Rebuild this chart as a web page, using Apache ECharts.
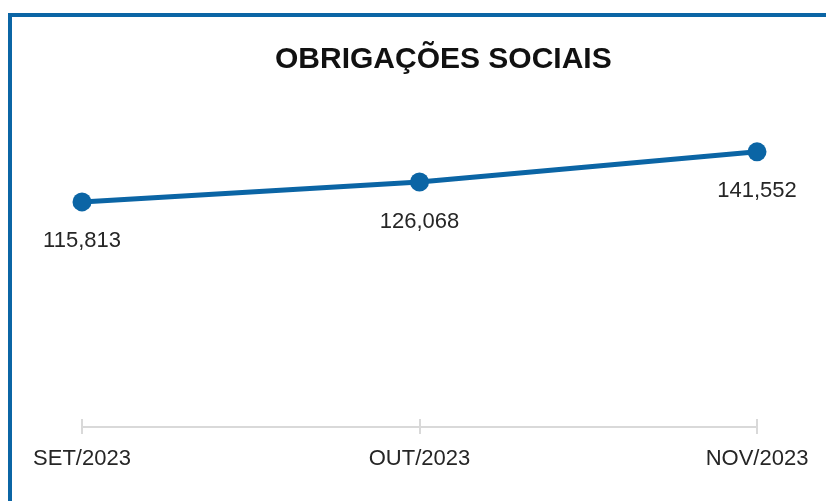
<!DOCTYPE html>
<html>
<head>
<meta charset="utf-8">
<script src="https://cdn.jsdelivr.net/npm/echarts@6/dist/echarts.min.js"></script>
<style>
  html, body { margin: 0; padding: 0; background: #fff; }
  #frame {
    position: absolute; left: 8px; top: 13px; right: 0; bottom: 0;
    border-left: 4px solid #0b65a5; border-top: 4px solid #0b65a5;
  }
  #chart { position: absolute; left: 0; top: 0; width: 826px; height: 501px; }
</style>
</head>
<body>
<div id="frame"></div>
<div id="chart"></div>
<script>
// meses e valores
var months = ['SET/2023', 'OUT/2023', 'NOV/2023'];
var values = [115813, 126068, 141552];

var chart = echarts.init(document.getElementById('chart'));
chart.setOption({
  animation: false,
  title: {
    left: 270,
    top: 40,
    text: 'OBRIGAÇÕES SOCIAIS',
    textStyle: { fontFamily: 'Liberation Sans', fontWeight: 'bold', fontSize: 30, color: '#111' }
  },
  grid: { left: 82, right: 69, top: 116, bottom: 74 },
  xAxis: [{
    type: 'category',
    data: months,
    boundaryGap: false,
    axisLine: { lineStyle: { color: '#d9d9d9', width: 2 } },
    axisTick: { show: true, length: 7, lineStyle: { color: '#d9d9d9', width: 2 } },
    axisLabel: { color: '#262626', fontSize: 22, fontFamily: 'Liberation Sans', margin: 21 }
  }, {
    // ticks cruzando a linha do eixo (parte de cima)
    type: 'category',
    data: months,
    position: 'bottom',
    boundaryGap: false,
    axisLine: { show: false },
    axisTick: { show: true, inside: true, length: 8, lineStyle: { color: '#d9d9d9', width: 2 } },
    axisLabel: { show: false }
  }],
  yAxis: {
    type: 'value', min: 0, max: 160000, show: false,
    splitLine: { show: false }
  },
  series: [{
    type: 'line',
    data: values,
    symbol: 'circle',
    symbolSize: 19,
    lineStyle: { color: '#0b65a5', width: 5 },
    itemStyle: { color: '#0b65a5' },
    label: {
      show: true, position: 'bottom', distance: 19,
      color: '#262626', fontSize: 22, fontFamily: 'Liberation Sans',
      formatter: function (p) { return p.value.toLocaleString('en-US'); }
    }
  }]
});
</script>
</body>
</html>
